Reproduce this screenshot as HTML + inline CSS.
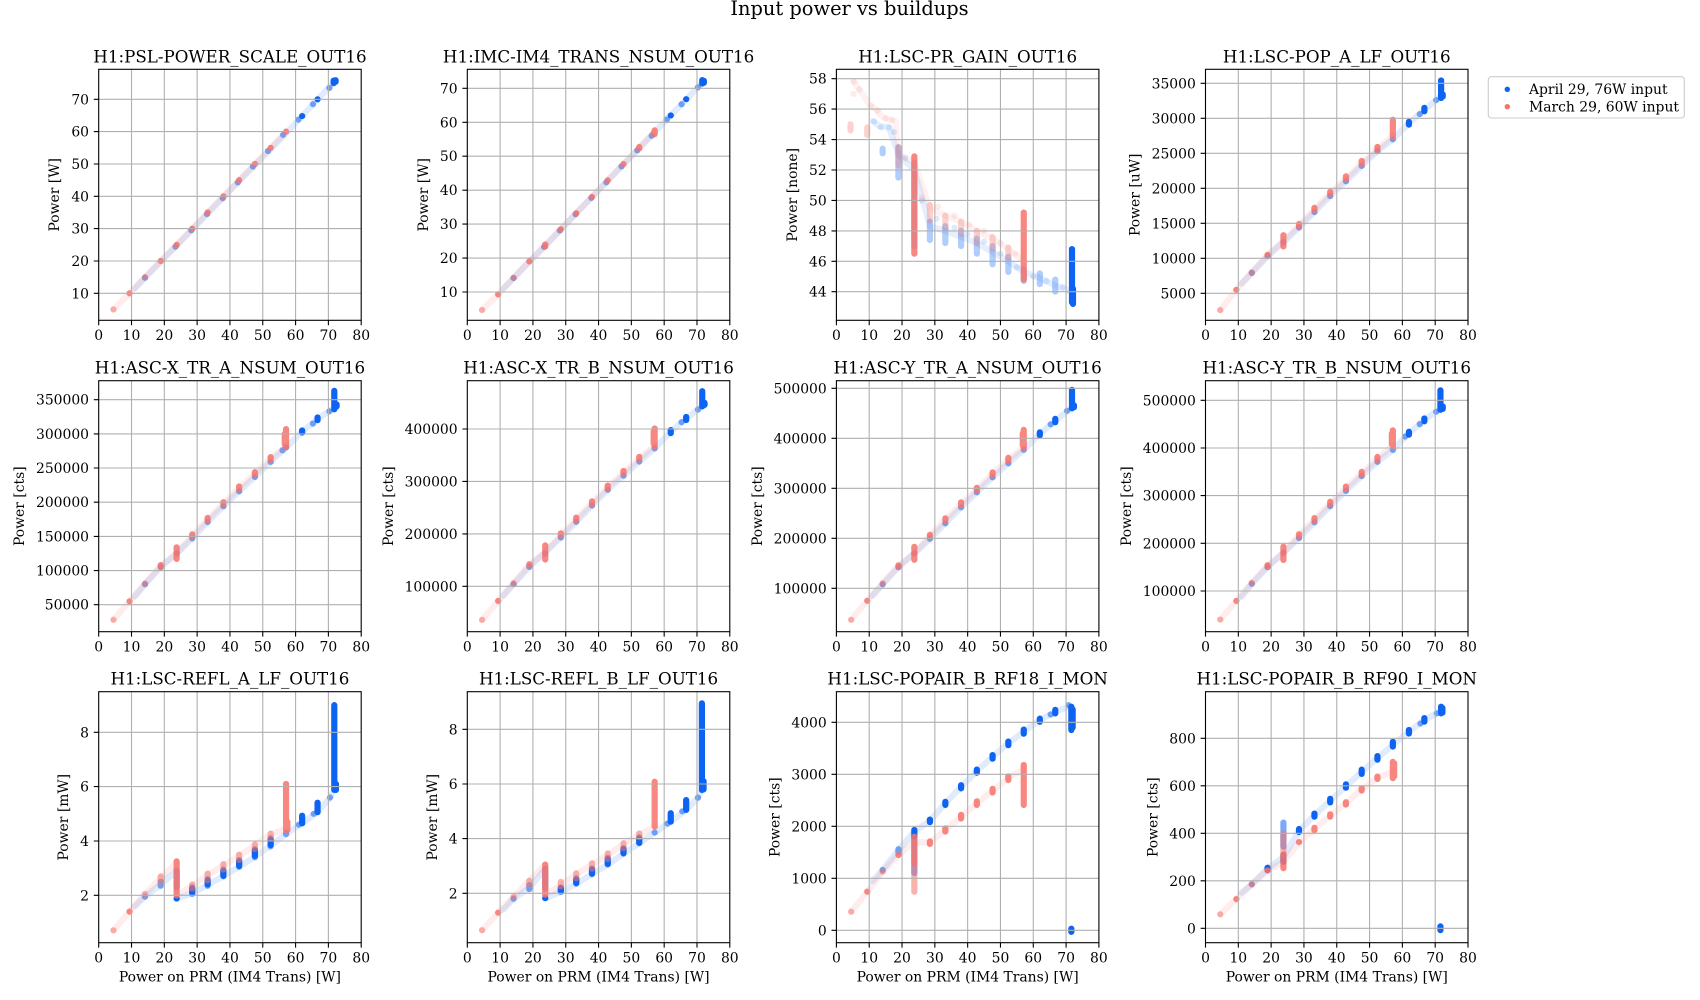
<!DOCTYPE html>
<html><head><meta charset="utf-8">
<style>
html,body{margin:0;padding:0;background:#fff;}
svg{display:block}
text{font-family:"DejaVu Serif","Liberation Serif",serif;font-size:13.9px;fill:#000}
.xt text{text-anchor:middle}
.yt text{text-anchor:end}
.ttl{font-size:16.7px;text-anchor:middle}
.yl{text-anchor:middle}
.sup{font-size:19.4px;text-anchor:middle}
.gp{stroke:#b0b0b0;stroke-width:1.1;fill:none}
.tp{stroke:#000;stroke-width:1.1;fill:none}
.sp{fill:none;stroke:#000;stroke-width:1.1}
.dat path{fill:none;stroke-linecap:round;stroke-linejoin:round;vector-effect:non-scaling-stroke;stroke-width:6.2}
.b{stroke:#0d63f2}.r{stroke:#f6726a}
.t{stroke-opacity:.13}.f{stroke-opacity:.3}.d{stroke-opacity:.55}.s{stroke-opacity:1}.m{stroke-opacity:.85}
.p3 .f{stroke-opacity:.14}.p3 .d{stroke-opacity:.32}.p3 .t{stroke-opacity:.1}
</style></head><body>
<svg width="1700" height="1000" viewBox="0 0 1700 1000" xmlns="http://www.w3.org/2000/svg">
<defs>
<g id="vg"><path class="gp" d="M32.81 0V251M65.63 0V251M98.44 0V251M131.25 0V251M164.06 0V251M196.88 0V251M229.69 0V251"/></g>
<g id="xk"><path class="tp" d="M0 251V255.9M32.81 251V255.9M65.63 251V255.9M98.44 251V255.9M131.25 251V255.9M164.06 251V255.9M196.88 251V255.9M229.69 251V255.9M262.5 251V255.9"/></g>
</defs>
<rect width="1700" height="1000" fill="#fff"/>
<text class="sup" x="849.5" y="15">Input power vs buildups</text>

<!-- P1 -->
<g transform="translate(98.7,69.3)">
<g class="dat" transform="matrix(3.28125 0 0 -3.2333 0 256.33)">
<path class="b t" d="M11 11.5L14.1 14.8L18.9 19.8L23.5 24.5L28.3 29.5L33 34.5L37.8 39.5L42.5 44.4L47.3 49.3L52 54.2L56.8 59.2L62 64.8L66.7 70L71.8 75.4"/>
<path class="b d" d="M14.1 14.8h.01M23.4 24.4h.01M28.2 29.5h.01M33 34.5h.01M37.8 39.4h.01M42.4 44.3h.01M47 49.2h.01M51.6 54h.01M56.2 59h.01M65.3 68.5h.01M70.3 73.5h.01M60.8 63.7h.01"/>
<path class="b s" d="M62 64.8h.01M66.7 70h.01M71.6 75V75.8M72.2 75.4V75.9"/>
<path class="r t" d="M4.5 5L9.4 10L14.1 15L18.9 20L23.75 25L28.5 30L33.2 35L38 40L42.8 45L47.6 50L52.4 55L57.1 60"/>
<path class="r d" d="M4.5 5h.01M14.1 15h.01"/>
<path class="r m" d="M9.4 10h.01M18.9 20h.01M23.75 25h.01M28.5 30h.01M33.2 35h.01M38 40h.01M42.8 45h.01M47.6 50h.01M52.4 55h.01M57.1 60h.01"/>
</g>
<use href="#vg"/>
<path class="gp" d="M0 30H262.5M0 62.3H262.5M0 94.7H262.5M0 127H262.5M0 159.3H262.5M0 191.7H262.5M0 224H262.5"/>
<rect class="sp" width="262.5" height="251"/>
<use href="#xk"/>
<path class="tp" d="M-4.9 30H0M-4.9 62.3H0M-4.9 94.7H0M-4.9 127H0M-4.9 159.3H0M-4.9 191.7H0M-4.9 224H0"/>
<g class="xt"><text x="0" y="270.6">0</text><text x="32.81" y="270.6">10</text><text x="65.63" y="270.6">20</text><text x="98.44" y="270.6">30</text><text x="131.25" y="270.6">40</text><text x="164.06" y="270.6">50</text><text x="196.88" y="270.6">60</text><text x="229.69" y="270.6">70</text><text x="262.5" y="270.6">80</text></g>
<g class="yt"><text x="-9.7" y="35">70</text><text x="-9.7" y="67.3">60</text><text x="-9.7" y="99.7">50</text><text x="-9.7" y="132">40</text><text x="-9.7" y="164.3">30</text><text x="-9.7" y="196.7">20</text><text x="-9.7" y="229">10</text></g>
<text class="ttl" x="131.25" y="-7">H1:PSL-POWER_SCALE_OUT16</text>
<text class="yl" transform="translate(-39.5,125.5) rotate(-90)">Power [W]</text>
</g>

<!-- P2 -->
<g transform="translate(467.3,69.3)">
<g class="dat" transform="matrix(3.28125 0 0 -3.395 0 256.65)">
<path class="b t" d="M11 11L14.1 14.1L18.9 18.9L23.5 23.4L28.3 28.2L33 33L37.8 37.8L42.5 42.5L47.3 47.3L52 52L56.8 56.8L62 62L66.7 66.7L71.8 71.8"/>
<path class="b d" d="M14.1 14.1h.01M23.4 23.3h.01M28.2 28.1h.01M33 32.9h.01M37.8 37.7h.01M42.4 42.3h.01M47 47h.01M51.8 51.7h.01M56.2 56h.01M65.3 65.3h.01M70.3 70.3h.01M60.8 60.8h.01"/>
<path class="b s" d="M62 62h.01M66.7 66.8h.01M71.6 71.4V72.4M72.1 71.6V72.2"/>
<path class="r t" d="M4.5 4.7L9.4 9.3L14.1 14.2L18.9 19L23.75 23.7L28.5 28.5L33.2 33.2L38 38L42.8 42.9L47.6 47.7L52.4 52.5L57.1 57.1"/>
<path class="r d" d="M4.5 4.7h.01M14.1 14.2h.01"/>
<path class="r m" d="M9.4 9.3h.01M18.9 19h.01M23.75 23.4V24M28.5 28.5h.01M33.2 33.2h.01M38 38h.01M42.8 42.9h.01M47.6 47.7h.01M52.4 52.3V52.7M57.1 56.5V57.6M56.8 56.8h.01"/>
</g>
<use href="#vg"/>
<path class="gp" d="M0 19H262.5M0 53H262.5M0 86.9H262.5M0 120.9H262.5M0 154.8H262.5M0 188.8H262.5M0 222.7H262.5"/>
<rect class="sp" width="262.5" height="251"/>
<use href="#xk"/>
<path class="tp" d="M-4.9 19H0M-4.9 53H0M-4.9 86.9H0M-4.9 120.9H0M-4.9 154.8H0M-4.9 188.8H0M-4.9 222.7H0"/>
<g class="xt"><text x="0" y="270.6">0</text><text x="32.81" y="270.6">10</text><text x="65.63" y="270.6">20</text><text x="98.44" y="270.6">30</text><text x="131.25" y="270.6">40</text><text x="164.06" y="270.6">50</text><text x="196.88" y="270.6">60</text><text x="229.69" y="270.6">70</text><text x="262.5" y="270.6">80</text></g>
<g class="yt"><text x="-9.7" y="24">70</text><text x="-9.7" y="58">60</text><text x="-9.7" y="91.9">50</text><text x="-9.7" y="125.9">40</text><text x="-9.7" y="159.8">30</text><text x="-9.7" y="193.8">20</text><text x="-9.7" y="227.7">10</text></g>
<text class="ttl" x="131.25" y="-7">H1:IMC-IM4_TRANS_NSUM_OUT16</text>
<text class="yl" transform="translate(-39.5,125.5) rotate(-90)">Power [W]</text>
</g>

<!-- P3 -->
<g class="p3" transform="translate(836.4,69.3)">
<g class="dat" transform="matrix(3.28125 0 0 -15.215 0 891.87)">
<path class="b t" d="M11 55.2L13 54.9L16 54.8L18.9 53L23.75 52L28.5 48.3L33.2 48L38 47.6L42.8 47.2L47.6 46.6L52.4 46L57.1 45.3L62 44.9L66.7 44.4L71.8 44"/>
<path class="b f" d="M11.5 55.2h.01M13.5 54.8h.01M16 54.8h.01M17.5 54.5h.01M21 52.8h.01M26 50h.01M30.5 48.8h.01M36 48.2h.01M40 47.8h.01M45 47.3h.01M50 46.5h.01M55 45.6h.01M60 45h.01M64 44.7h.01M69 44.3h.01"/>
<path class="b d" d="M14.1 53.1V53.4M18.9 51.5V53.5M23.75 47V52.5M28.5 47.4V48.6M33.2 47.2V48.3M38 47V48M42.8 46.5V47.5M47.6 45.8V47M52.4 45.3V46.3M57.1 44.7V45.5M62 44.5V45.2M66.7 44V44.8"/>
<path class="b s" d="M71.8 43.3V46.8M72.1 43.2V44.2"/>
<path class="r t" d="M5.3 57.8L6.5 57.4L8 57L10 56.3L12 56L14 55.5L16 55.3L18 55.2L18.9 53L23.75 52.5L28.5 49.5L33.2 49L38 48.6L42.8 48L47.6 47.5L52.4 46.8L57.1 46"/>
<path class="r f" d="M5.3 57.8h.01M5.2 57h.01M7 57.3h.01M10.5 56.2h.01M12.5 55.9h.01M15 55.4h.01M17 55.3h.01M26 50.2h.01M31 49.6h.01M36 49h.01M40.5 48.4h.01M45 48h.01M50 47.2h.01M54.5 46.5h.01"/>
<path class="r d" d="M4.3 54.6V55M9.4 54.3V54.8M18.9 52.3V53.5M28.5 48.7V49.7M33.2 48.2V49M38 47.8V48.6M42.8 47.2V48M47.6 46.8V47.6M52.4 46.2V46.9"/>
<path class="r m" d="M23.75 46.5V52.9M57.1 44.8V49.2"/>
</g>
<use href="#vg"/>
<path class="gp" d="M0 9.4H262.5M0 39.8H262.5M0 70.3H262.5M0 100.7H262.5M0 131.1H262.5M0 161.6H262.5M0 192H262.5M0 222.4H262.5"/>
<rect class="sp" width="262.5" height="251"/>
<use href="#xk"/>
<path class="tp" d="M-4.9 9.4H0M-4.9 39.8H0M-4.9 70.3H0M-4.9 100.7H0M-4.9 131.1H0M-4.9 161.6H0M-4.9 192H0M-4.9 222.4H0"/>
<g class="xt"><text x="0" y="270.6">0</text><text x="32.81" y="270.6">10</text><text x="65.63" y="270.6">20</text><text x="98.44" y="270.6">30</text><text x="131.25" y="270.6">40</text><text x="164.06" y="270.6">50</text><text x="196.88" y="270.6">60</text><text x="229.69" y="270.6">70</text><text x="262.5" y="270.6">80</text></g>
<g class="yt"><text x="-9.7" y="14.4">58</text><text x="-9.7" y="44.8">56</text><text x="-9.7" y="75.3">54</text><text x="-9.7" y="105.7">52</text><text x="-9.7" y="136.1">50</text><text x="-9.7" y="166.6">48</text><text x="-9.7" y="197">46</text><text x="-9.7" y="227.4">44</text></g>
<text class="ttl" x="131.25" y="-7">H1:LSC-PR_GAIN_OUT16</text>
<text class="yl" transform="translate(-39.5,125.5) rotate(-90)">Power [none]</text>
</g>

<!-- P4 -->
<g transform="translate(1205.5,69.3)">
<g class="dat" transform="matrix(3.28125 0 0 -7 0 259)">
<path class="b t" d="M11 6.4L14.1 7.9L18.9 10.3L23.75 12.3L28.5 14.4L33.2 16.6L38 18.9L42.8 21L47.6 23.2L52.4 25.3L57.1 27L62 29.3L66.7 31.2L71.8 33.2"/>
<path class="b d" d="M14.1 7.9h.01M18.9 10.3h.01M23.75 12.3h.01M28.5 14.4h.01M33.2 16.6h.01M38 18.9h.01M42.8 21h.01M47.6 23.2h.01M52.4 25.3h.01M57.1 27h.01M65.3 30.6h.01M70.3 32.6h.01"/>
<path class="b s" d="M62 29.1V29.5M66.7 31V31.5M71.8 32.9V35.4M72.3 33.1V33.4"/>
<path class="r t" d="M4.5 2.6L9.4 5.5L14.1 8L18.9 10.5L23.75 12.5L28.5 14.7L33.2 17L38 19.3L42.8 21.4L47.6 23.6L52.4 25.6L57.1 27.5"/>
<path class="r d" d="M4.5 2.6h.01M14.1 8h.01"/>
<path class="r m" d="M9.4 5.5h.01M18.9 10.5h.01M23.75 11.7V13.3M28.5 14.6V14.9M33.2 16.9V17.2M38 19.2V19.5M42.8 21.3V21.7M47.6 23.5V23.9M52.4 25.5V25.9M57.1 27.4V29.8"/>
</g>
<use href="#vg"/>
<path class="gp" d="M0 14H262.5M0 49H262.5M0 84H262.5M0 119H262.5M0 154H262.5M0 189H262.5M0 224H262.5"/>
<rect class="sp" width="262.5" height="251"/>
<use href="#xk"/>
<path class="tp" d="M-4.9 14H0M-4.9 49H0M-4.9 84H0M-4.9 119H0M-4.9 154H0M-4.9 189H0M-4.9 224H0"/>
<g class="xt"><text x="0" y="270.6">0</text><text x="32.81" y="270.6">10</text><text x="65.63" y="270.6">20</text><text x="98.44" y="270.6">30</text><text x="131.25" y="270.6">40</text><text x="164.06" y="270.6">50</text><text x="196.88" y="270.6">60</text><text x="229.69" y="270.6">70</text><text x="262.5" y="270.6">80</text></g>
<g class="yt"><text x="-9.7" y="19">35000</text><text x="-9.7" y="54">30000</text><text x="-9.7" y="89">25000</text><text x="-9.7" y="124">20000</text><text x="-9.7" y="159">15000</text><text x="-9.7" y="194">10000</text><text x="-9.7" y="229">5000</text></g>
<text class="ttl" x="131.25" y="-7">H1:LSC-POP_A_LF_OUT16</text>
<text class="yl" transform="translate(-66,125.5) rotate(-90)">Power [uW]</text>
</g>

<!-- P5 -->
<g transform="translate(98.7,380.7)">
<g class="dat" transform="matrix(3.28125 0 0 -0.6834 0 258.19)">
<path class="b t" d="M11 62L14.1 80L18.9 105L23.75 125L28.5 147L33.2 171L38 194L42.8 216L47.6 237L52.4 259L57.1 280L62 303L66.7 322L71.8 338"/>
<path class="b d" d="M14.1 80h.01M18.9 105h.01M23.75 125h.01M28.5 147h.01M33.2 171h.01M38 194h.01M42.8 216h.01M47.6 237h.01M52.4 259h.01M57.1 280h.01M65.3 315h.01M70.3 333h.01M56 276h.01"/>
<path class="b s" d="M62 302V305M66.7 320V324M71.8 336V363M72.5 340V343"/>
<path class="r t" d="M4.5 28L9.4 55L14.1 81L18.9 107L23.75 125L28.5 151L33.2 175L38 198L42.8 221L47.6 242L52.4 264L57.1 282"/>
<path class="r d" d="M4.5 28h.01M14.1 81h.01"/>
<path class="r m" d="M9.4 55h.01M18.9 106V108M23.75 117V134M28.5 150V153M33.2 174V177M38 197V200M42.8 219V223M47.6 240V244M52.4 262V266M57.1 281V307M56.7 285V300"/>
</g>
<use href="#vg"/>
<path class="gp" d="M0 19H262.5M0 53.2H262.5M0 87.3H262.5M0 121.5H262.5M0 155.7H262.5M0 189.9H262.5M0 224H262.5"/>
<rect class="sp" width="262.5" height="251"/>
<use href="#xk"/>
<path class="tp" d="M-4.9 19H0M-4.9 53.2H0M-4.9 87.3H0M-4.9 121.5H0M-4.9 155.7H0M-4.9 189.9H0M-4.9 224H0"/>
<g class="xt"><text x="0" y="270.6">0</text><text x="32.81" y="270.6">10</text><text x="65.63" y="270.6">20</text><text x="98.44" y="270.6">30</text><text x="131.25" y="270.6">40</text><text x="164.06" y="270.6">50</text><text x="196.88" y="270.6">60</text><text x="229.69" y="270.6">70</text><text x="262.5" y="270.6">80</text></g>
<g class="yt"><text x="-9.7" y="24">350000</text><text x="-9.7" y="58.2">300000</text><text x="-9.7" y="92.3">250000</text><text x="-9.7" y="126.5">200000</text><text x="-9.7" y="160.7">150000</text><text x="-9.7" y="194.9">100000</text><text x="-9.7" y="229">50000</text></g>
<text class="ttl" x="131.25" y="-7">H1:ASC-X_TR_A_NSUM_OUT16</text>
<text class="yl" transform="translate(-74.5,125.5) rotate(-90)">Power [cts]</text>
</g>

<!-- P6 -->
<g transform="translate(467.3,380.7)">
<g class="dat" transform="matrix(3.28125 0 0 -0.5243 0 258.02)">
<path class="b t" d="M11 82L14.1 104L18.9 137L23.75 165L28.5 193L33.2 223L38 254L42.8 284L47.6 311L52.4 338L57.1 363L62 395L66.7 420L71.8 445"/>
<path class="b d" d="M14.1 104h.01M18.9 137h.01M23.75 162h.01M28.5 193h.01M33.2 223h.01M38 254h.01M42.8 284h.01M47.6 311h.01M52.4 338h.01M57.1 363h.01M65.3 413h.01M70.3 437h.01"/>
<path class="b s" d="M62 392V398M66.7 417V423M71.6 443V472M72.3 446V450"/>
<path class="r t" d="M4.5 36L9.4 72L14.1 106L18.9 141L23.75 165L28.5 198L33.2 228L38 259L42.8 289L47.6 317L52.4 344L57.1 368"/>
<path class="r d" d="M4.5 36h.01M14.1 106h.01"/>
<path class="r m" d="M9.4 72h.01M18.9 140V142M23.75 151V178M28.5 197V201M33.2 226V231M38 257V262M42.8 287V292M47.6 315V320M52.4 342V347M57.1 367V401M56.8 372V395"/>
</g>
<use href="#vg"/>
<path class="gp" d="M0 48.3H262.5M0 100.7H262.5M0 153.2H262.5M0 205.6H262.5"/>
<rect class="sp" width="262.5" height="251"/>
<use href="#xk"/>
<path class="tp" d="M-4.9 48.3H0M-4.9 100.7H0M-4.9 153.2H0M-4.9 205.6H0"/>
<g class="xt"><text x="0" y="270.6">0</text><text x="32.81" y="270.6">10</text><text x="65.63" y="270.6">20</text><text x="98.44" y="270.6">30</text><text x="131.25" y="270.6">40</text><text x="164.06" y="270.6">50</text><text x="196.88" y="270.6">60</text><text x="229.69" y="270.6">70</text><text x="262.5" y="270.6">80</text></g>
<g class="yt"><text x="-9.7" y="53.3">400000</text><text x="-9.7" y="105.7">300000</text><text x="-9.7" y="158.2">200000</text><text x="-9.7" y="210.6">100000</text></g>
<text class="ttl" x="131.25" y="-7">H1:ASC-X_TR_B_NSUM_OUT16</text>
<text class="yl" transform="translate(-74.5,125.5) rotate(-90)">Power [cts]</text>
</g>

<!-- P7 -->
<g transform="translate(836.4,380.7)">
<g class="dat" transform="matrix(3.28125 0 0 -0.5 0 257.6)">
<path class="b t" d="M11 85L14.1 108L18.9 142L23.75 170L28.5 199L33.2 230L38 262L42.8 292L47.6 322L52.4 350L57.1 377L62 409L66.7 435L71.8 462"/>
<path class="b d" d="M14.1 108h.01M18.9 142h.01M23.75 170h.01M28.5 199h.01M33.2 230h.01M38 262h.01M42.8 292h.01M47.6 322h.01M52.4 350h.01M57.1 377h.01M65.3 428h.01M70.3 455h.01"/>
<path class="b s" d="M62 406V412M66.7 432V439M71.8 460V497M72.4 462V466"/>
<path class="r t" d="M4.5 37L9.4 75L14.1 110L18.9 145L23.75 170L28.5 205L33.2 237L38 269L42.8 298L47.6 329L52.4 358L57.1 382"/>
<path class="r d" d="M4.5 37h.01M14.1 110h.01"/>
<path class="r m" d="M9.4 75h.01M18.9 144V146M23.75 157V183M28.5 204V207M33.2 235V240M38 267V272M42.8 296V301M47.6 326V332M52.4 355V361M57.1 381V417M56.8 386V410"/>
</g>
<use href="#vg"/>
<path class="gp" d="M0 7.6H262.5M0 57.6H262.5M0 107.6H262.5M0 157.6H262.5M0 207.6H262.5"/>
<rect class="sp" width="262.5" height="251"/>
<use href="#xk"/>
<path class="tp" d="M-4.9 7.6H0M-4.9 57.6H0M-4.9 107.6H0M-4.9 157.6H0M-4.9 207.6H0"/>
<g class="xt"><text x="0" y="270.6">0</text><text x="32.81" y="270.6">10</text><text x="65.63" y="270.6">20</text><text x="98.44" y="270.6">30</text><text x="131.25" y="270.6">40</text><text x="164.06" y="270.6">50</text><text x="196.88" y="270.6">60</text><text x="229.69" y="270.6">70</text><text x="262.5" y="270.6">80</text></g>
<g class="yt"><text x="-9.7" y="12.6">500000</text><text x="-9.7" y="62.6">400000</text><text x="-9.7" y="112.6">300000</text><text x="-9.7" y="162.6">200000</text><text x="-9.7" y="212.6">100000</text></g>
<text class="ttl" x="131.25" y="-7">H1:ASC-Y_TR_A_NSUM_OUT16</text>
<text class="yl" transform="translate(-74.5,125.5) rotate(-90)">Power [cts]</text>
</g>

<!-- P8 -->
<g transform="translate(1205.5,380.7)">
<g class="dat" transform="matrix(3.28125 0 0 -0.4767 0 257.95)">
<path class="b t" d="M11 88L14.1 115L18.9 150L23.75 180L28.5 211L33.2 244L38 278L42.8 310L47.6 341L52.4 371L57.1 396L62 431L66.7 459L71.8 484"/>
<path class="b d" d="M14.1 115h.01M18.9 150h.01M23.75 180h.01M28.5 211h.01M33.2 244h.01M38 278h.01M42.8 310h.01M47.6 341h.01M52.4 371h.01M57.1 396h.01M65.3 450h.01M70.3 476h.01M60.8 424h.01"/>
<path class="b s" d="M62 428V434M66.7 456V462M71.6 480V521M72.3 482V487"/>
<path class="r t" d="M4.5 40L9.4 79L14.1 117L18.9 153L23.75 180L28.5 217L33.2 250L38 284L42.8 316L47.6 347L52.4 378L57.1 405"/>
<path class="r d" d="M4.5 40h.01M14.1 117h.01"/>
<path class="r m" d="M9.4 79h.01M18.9 152V154M23.75 165V193M28.5 215V219M33.2 248V253M38 282V287M42.8 314V319M47.6 344V350M52.4 375V381M57.1 403V437M56.8 408V430"/>
</g>
<use href="#vg"/>
<path class="gp" d="M0 19.6H262.5M0 67.3H262.5M0 114.9H262.5M0 162.6H262.5M0 210.3H262.5"/>
<rect class="sp" width="262.5" height="251"/>
<use href="#xk"/>
<path class="tp" d="M-4.9 19.6H0M-4.9 67.3H0M-4.9 114.9H0M-4.9 162.6H0M-4.9 210.3H0"/>
<g class="xt"><text x="0" y="270.6">0</text><text x="32.81" y="270.6">10</text><text x="65.63" y="270.6">20</text><text x="98.44" y="270.6">30</text><text x="131.25" y="270.6">40</text><text x="164.06" y="270.6">50</text><text x="196.88" y="270.6">60</text><text x="229.69" y="270.6">70</text><text x="262.5" y="270.6">80</text></g>
<g class="yt"><text x="-9.7" y="24.6">500000</text><text x="-9.7" y="72.3">400000</text><text x="-9.7" y="119.9">300000</text><text x="-9.7" y="167.6">200000</text><text x="-9.7" y="215.3">100000</text></g>
<text class="ttl" x="131.25" y="-7">H1:ASC-Y_TR_B_NSUM_OUT16</text>
<text class="yl" transform="translate(-74.5,125.5) rotate(-90)">Power [cts]</text>
</g>

<!-- P9 -->
<g transform="translate(98.7,691.7)">
<g class="dat" transform="matrix(3.28125 0 0 -27.17 0 257.96)">
<path class="b t" d="M11 1.6L14.1 1.95L18.9 2.4L23.75 2.9L23.75 1.88L28.5 2.07L33.2 2.38L38 2.71L42.8 3.05L47.6 3.42L52.4 3.83L57.1 4.26L62 4.65L66.7 5.06L70.5 5.6L71.8 5.88"/>
<path class="b d" d="M14.1 1.95h.01M18.9 2.35V2.5M23.75 2.3V2.9M28.5 2.05V2.3M33.2 2.35V2.6M38 2.7V2.95M42.8 3.05V3.3M47.6 3.4V3.7M52.4 3.8V4.1M57.1 4.25V4.3M65.5 5h.01M70.5 5.6h.01M61 4.6h.01"/>
<path class="b s" d="M23.75 1.88h.01M28.5 2.1V2.25M33.2 2.4V2.55M38 2.72V2.9M42.8 3.08V3.25M47.6 3.45V3.65M52.4 3.85V4.05M62 4.65V4.93M66.7 5.06V5.41M71.8 5.88V9M72.3 5.88V6.1"/>
<path class="r t" d="M4.5 0.71L9.4 1.4L14.1 2.05L18.9 2.65L23.75 3.2L23.75 2L28.5 2.35L33.2 2.75L38 3.1L42.8 3.45L47.6 3.85L52.4 4.25L57.1 4.45"/>
<path class="r d" d="M4.5 .71h.01M14.1 2.05h.01M18.9 2.5V2.7M28.5 2.25V2.4M33.2 2.55V2.8M38 2.95V3.15M42.8 3.3V3.5M47.6 3.7V3.87M52.4 4.1V4.27"/>
<path class="r m" d="M9.4 1.4h.01M23.75 2V3.25M57.1 4.4V6.1M57.5 4.4V4.7"/>
</g>
<use href="#vg"/>
<path class="gp" d="M0 40.6H262.5M0 94.9H262.5M0 149.3H262.5M0 203.6H262.5"/>
<rect class="sp" width="262.5" height="251"/>
<use href="#xk"/>
<path class="tp" d="M-4.9 40.6H0M-4.9 94.9H0M-4.9 149.3H0M-4.9 203.6H0"/>
<g class="xt"><text x="0" y="270.6">0</text><text x="32.81" y="270.6">10</text><text x="65.63" y="270.6">20</text><text x="98.44" y="270.6">30</text><text x="131.25" y="270.6">40</text><text x="164.06" y="270.6">50</text><text x="196.88" y="270.6">60</text><text x="229.69" y="270.6">70</text><text x="262.5" y="270.6">80</text></g>
<g class="yt"><text x="-9.7" y="45.6">8</text><text x="-9.7" y="99.9">6</text><text x="-9.7" y="154.3">4</text><text x="-9.7" y="208.6">2</text></g>
<text class="ttl" x="131.25" y="-7">H1:LSC-REFL_A_LF_OUT16</text>
<text class="yl" transform="translate(-30.5,125.5) rotate(-90)">Power [mW]</text>
<text x="131.25" y="289.8" text-anchor="middle">Power on PRM (IM4 Trans) [W]</text>
</g>

<!-- P10 -->
<g transform="translate(467.3,691.7)">
<g class="dat" transform="matrix(3.28125 0 0 -27.33 0 256.24)">
<path class="b t" d="M11 1.4L14.1 1.8L18.9 2.2L23.75 2.9L23.75 1.82L28.5 2.05L33.2 2.35L38 2.7L42.8 3.05L47.6 3.45L52.4 3.83L57.1 4.22L62 4.62L66.7 5.05L70.3 5.5L71.5 5.78"/>
<path class="b d" d="M14.1 1.8h.01M18.9 2.15V2.3M23.75 2.2V2.9M28.5 2.05V2.2M33.2 2.35V2.55M38 2.7V2.9M42.8 3.05V3.3M47.6 3.45V3.65M52.4 3.83V4.05M57.1 4.22h.01M65.5 5h.01M70.3 5.5h.01M61 4.55h.01"/>
<path class="b s" d="M23.75 1.82h.01M28.5 2.08V2.2M33.2 2.38V2.5M38 2.72V2.88M42.8 3.08V3.25M47.6 3.47V3.62M52.4 3.85V4M62 4.62V4.93M66.7 5.05V5.41M71.5 5.78V8.95M72 5.8V6.1"/>
<path class="r t" d="M4.5 .65L9.4 1.29L14.1 1.87L18.9 2.46L23.75 3.05L23.75 1.95L28.5 2.3L33.2 2.7L38 3.05L42.8 3.4L47.6 3.8L52.4 4.15L57.1 4.44"/>
<path class="r d" d="M4.5 .65h.01M14.1 1.87h.01M18.9 2.3V2.46M28.5 2.25V2.42M33.2 2.55V2.73M38 2.9V3.1M42.8 3.25V3.46M47.6 3.65V3.83M52.4 4.05V4.19"/>
<path class="r m" d="M9.4 1.29h.01M23.75 1.95V3.05M57.1 4.44V6.08"/>
</g>
<use href="#vg"/>
<path class="gp" d="M0 37.6H262.5M0 92.3H262.5M0 146.9H262.5M0 201.6H262.5"/>
<rect class="sp" width="262.5" height="251"/>
<use href="#xk"/>
<path class="tp" d="M-4.9 37.6H0M-4.9 92.3H0M-4.9 146.9H0M-4.9 201.6H0"/>
<g class="xt"><text x="0" y="270.6">0</text><text x="32.81" y="270.6">10</text><text x="65.63" y="270.6">20</text><text x="98.44" y="270.6">30</text><text x="131.25" y="270.6">40</text><text x="164.06" y="270.6">50</text><text x="196.88" y="270.6">60</text><text x="229.69" y="270.6">70</text><text x="262.5" y="270.6">80</text></g>
<g class="yt"><text x="-9.7" y="42.6">8</text><text x="-9.7" y="97.3">6</text><text x="-9.7" y="151.9">4</text><text x="-9.7" y="206.6">2</text></g>
<text class="ttl" x="131.25" y="-7">H1:LSC-REFL_B_LF_OUT16</text>
<text class="yl" transform="translate(-30.5,125.5) rotate(-90)">Power [mW]</text>
<text x="131.25" y="289.8" text-anchor="middle">Power on PRM (IM4 Trans) [W]</text>
</g>

<!-- P11 -->
<g transform="translate(836.4,691.7)">
<g class="dat" transform="matrix(3.28125 0 0 -0.052 0 238.6)">
<path class="b t" d="M11 950L14.1 1160L18.9 1544L23.75 1900L28.5 2108L33.2 2442L38 2762L42.8 3063L47.6 3338L52.4 3596L57.1 3819L62 4044L66.7 4204L70.8 4300L71.8 4250"/>
<path class="b d" d="M14.1 1160h.01M18.9 1500V1560M23.75 1100V1800M70.8 4330h.01M65.3 4150h.01"/>
<path class="b s" d="M23.75 1800V1930M28.5 2080V2130M33.2 2410V2470M38 2730V2790M42.8 3030V3090M47.6 3300V3370M52.4 3560V3630M57.1 3780V3860M62 4010V4070M66.7 4170V4240M71.6 3852V4300M72 3900V4250M71.6 -30V30"/>
<path class="r t" d="M4.5 358L9.4 742L14.1 1127L18.9 1448L23.75 1700L28.5 1685L33.2 1929L38 2185L42.8 2442L47.6 2685L52.4 2923L57.1 3100"/>
<path class="r d" d="M4.5 358h.01M14.1 1127h.01M23.75 742V1288"/>
<path class="r m" d="M9.4 742h.01M18.9 1448h.01M23.75 1288V1800M28.5 1660V1710M33.2 1900V1960M38 2150V2220M42.8 2410V2480M47.6 2650V2720M52.4 2890V2960M57.1 2410V3179"/>
</g>
<use href="#vg"/>
<path class="gp" d="M0 30.6H262.5M0 82.6H262.5M0 134.6H262.5M0 186.6H262.5M0 238.6H262.5"/>
<rect class="sp" width="262.5" height="251"/>
<use href="#xk"/>
<path class="tp" d="M-4.9 30.6H0M-4.9 82.6H0M-4.9 134.6H0M-4.9 186.6H0M-4.9 238.6H0"/>
<g class="xt"><text x="0" y="270.6">0</text><text x="32.81" y="270.6">10</text><text x="65.63" y="270.6">20</text><text x="98.44" y="270.6">30</text><text x="131.25" y="270.6">40</text><text x="164.06" y="270.6">50</text><text x="196.88" y="270.6">60</text><text x="229.69" y="270.6">70</text><text x="262.5" y="270.6">80</text></g>
<g class="yt"><text x="-9.7" y="35.6">4000</text><text x="-9.7" y="87.6">3000</text><text x="-9.7" y="139.6">2000</text><text x="-9.7" y="191.6">1000</text><text x="-9.7" y="243.6">0</text></g>
<text class="ttl" x="131.25" y="-7">H1:LSC-POPAIR_B_RF18_I_MON</text>
<text class="yl" transform="translate(-57,125.5) rotate(-90)">Power [cts]</text>
<text x="131.25" y="289.8" text-anchor="middle">Power on PRM (IM4 Trans) [W]</text>
</g>

<!-- P12 -->
<g transform="translate(1205.5,691.7)">
<g class="dat" transform="matrix(3.28125 0 0 -0.2375 0 236.6)">
<path class="b t" d="M11 150L14.1 185L18.9 251L23.75 300L28.5 411L33.2 476L38 537L42.8 599L47.6 658L52.4 717L57.1 772L62 828L66.7 877L71.8 915"/>
<path class="b d" d="M23.75 344V445M14.1 185h.01M70.5 905h.01M65.5 862h.01"/>
<path class="b s" d="M18.9 245V255M23.75 280V310M28.5 405V418M33.2 470V483M38 530V545M42.8 592V606M47.6 650V668M52.4 710V725M57.1 765V785M62 820V835M66.7 870V885M71.8 905V933M72.2 908V928M71.6 -8V8"/>
<path class="r t" d="M4.5 59L9.4 123L14.1 185L18.9 243L23.75 280L28.5 363L33.2 418L38 474L42.8 526L47.6 585L52.4 634L57.1 660"/>
<path class="r d" d="M4.5 59h.01M14.1 185h.01M23.75 309V400"/>
<path class="r m" d="M9.4 123h.01M18.9 243h.01M23.75 253V309M28.5 363h.01M33.2 413V423M38 470V480M42.8 521V531M47.6 580V590M52.4 629V639M57.1 632V701M57.5 640V695"/>
</g>
<use href="#vg"/>
<path class="gp" d="M0 46.6H262.5M0 94.1H262.5M0 141.6H262.5M0 189.1H262.5M0 236.6H262.5"/>
<rect class="sp" width="262.5" height="251"/>
<use href="#xk"/>
<path class="tp" d="M-4.9 46.6H0M-4.9 94.1H0M-4.9 141.6H0M-4.9 189.1H0M-4.9 236.6H0"/>
<g class="xt"><text x="0" y="270.6">0</text><text x="32.81" y="270.6">10</text><text x="65.63" y="270.6">20</text><text x="98.44" y="270.6">30</text><text x="131.25" y="270.6">40</text><text x="164.06" y="270.6">50</text><text x="196.88" y="270.6">60</text><text x="229.69" y="270.6">70</text><text x="262.5" y="270.6">80</text></g>
<g class="yt"><text x="-9.7" y="51.6">800</text><text x="-9.7" y="99.1">600</text><text x="-9.7" y="146.6">400</text><text x="-9.7" y="194.1">200</text><text x="-9.7" y="241.6">0</text></g>
<text class="ttl" x="131.25" y="-7">H1:LSC-POPAIR_B_RF90_I_MON</text>
<text class="yl" transform="translate(-48,125.5) rotate(-90)">Power [cts]</text>
<text x="131.25" y="289.8" text-anchor="middle">Power on PRM (IM4 Trans) [W]</text>
</g>

<!-- Legend -->
<rect x="1488.3" y="76.7" width="196" height="41.3" rx="3" ry="3" fill="#fff" fill-opacity="0.8" stroke="#cccccc" stroke-width="1.1"/>
<circle cx="1507.3" cy="89.3" r="2.7" fill="#0d63f2"/>
<circle cx="1507.3" cy="106.7" r="2.7" fill="#f6726a"/>
<text x="1529" y="94.2">April 29, 76W input</text>
<text x="1529" y="111.5">March 29, 60W input</text>
</svg>
</body></html>
